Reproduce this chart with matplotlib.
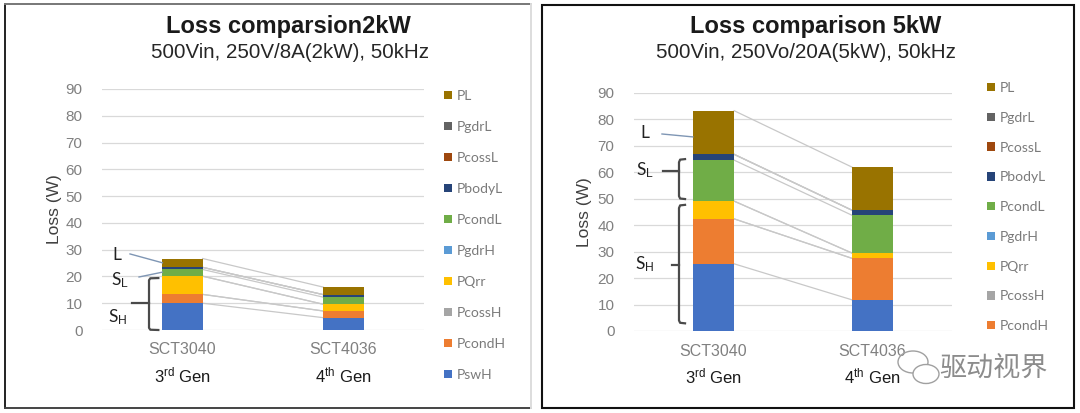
import matplotlib
matplotlib.use("Agg")
import matplotlib.pyplot as plt
import numpy as np
from matplotlib.patches import Rectangle, Ellipse
from matplotlib.lines import Line2D
from matplotlib.transforms import blended_transform_factory

plt.rcParams['font.family'] = ['Liberation Sans', 'DejaVu Sans']
plt.rcParams['mathtext.fontset'] = 'custom'
plt.rcParams['mathtext.rm'] = 'Liberation Sans'
plt.rcParams['mathtext.it'] = 'Liberation Sans:italic'
plt.rcParams['mathtext.bf'] = 'Liberation Sans:bold'

# ---------------- data ----------------
devices = ["SCT3040", "SCT4036"]
generations = [r"3$^{\mathrm{rd}}$ Gen", r"4$^{\mathrm{th}}$ Gen"]
series = ["PswH", "PcondH", "PcossH", "PQrr", "PgdrH",
          "PcondL", "PbodyL", "PcossL", "PgdrL", "PL"]
series_colors = ["#4472C4", "#ED7D31", "#A5A5A5", "#FFC000", "#5B9BD5",
                 "#70AD47", "#264478", "#9E480E", "#636363", "#997300"]

loss_2kw_sct3040 = [10.0, 3.3, 0.0, 6.8, 0.0, 2.5, 0.8, 0.0, 0.0, 3.3]
loss_2kw_sct4036 = [4.6, 2.5, 0.0, 2.5, 0.0, 2.65, 0.95, 0.0, 0.0, 2.8]
loss_5kw_sct3040 = [25.4, 17.0, 0.0, 6.7, 0.0, 15.5, 2.2, 0.0, 0.0, 16.5]
loss_5kw_sct4036 = [11.8, 15.7, 0.0, 2.0, 0.0, 14.3, 1.9, 0.0, 0.0, 16.3]

yticks = [0, 10, 20, 30, 40, 50, 60, 70, 80, 90]

W, H = 1080, 413
fig = plt.figure(figsize=(W / 100, H / 100), dpi=100)


def fx(p):
    return p / W


def fy(p):
    return 1 - p / H


def draw_panel(ax, vals_a, vals_b, bar_w):
    data = np.array([vals_a, vals_b])
    x = np.arange(len(devices))
    bottoms = np.zeros(len(devices))
    handles = []
    for i, name in enumerate(series):
        b = ax.bar(x, data[:, i], bar_w, bottom=bottoms, color=series_colors[i],
                   label=name, zorder=3, linewidth=0)
        handles.append(b)
        bottoms = bottoms + data[:, i]
        ax.plot([x[0] + bar_w / 2, x[1] - bar_w / 2], bottoms, color="#C8C8C8",
                lw=0.9, zorder=2)
    ax.set_xlim(-0.5, 1.5)
    ax.set_ylim(0, 90)
    ax.set_yticks(yticks)
    ax.set_xticks(x)
    ax.set_xticklabels(devices, color="#808080", fontsize=11.5)
    ax.tick_params(axis="both", length=0, colors="#808080")
    ax.tick_params(axis="y", labelsize=11, pad=14)
    ax.tick_params(axis="x", pad=9)
    for s in ax.spines.values():
        s.set_visible(False)
    ax.grid(axis="y", color="#D9D9D9", lw=0.9, zorder=0)
    ax.set_axisbelow(True)
    tr = blended_transform_factory(ax.transData, ax.transAxes)
    for xi, g in zip(x, generations):
        ax.text(xi, -0.19, g, transform=tr, ha="center", va="center",
                fontsize=12, color="#1a1a1a")
    ax.set_ylabel("Loss (W)", fontsize=12.5, color="#404040")
    return handles


# ---------------- left panel ----------------
axL = fig.add_axes([fx(102), fy(330), fx(424) - fx(102), fy(89) - fy(330)])
hL = draw_panel(axL, loss_2kw_sct3040, loss_2kw_sct4036, 0.25)
axL.yaxis.set_label_coords(-0.124, 0.5)

# ---------------- right panel ----------------
axR = fig.add_axes([fx(634), fy(331), fx(952) - fx(634), fy(93) - fy(331)])
hR = draw_panel(axR, loss_5kw_sct3040, loss_5kw_sct4036, 0.26)
axR.yaxis.set_label_coords(-0.132, 0.5)

# legends
leg_font = {"family": ["Lato", "DejaVu Sans"], "size": 10}
lL = fig.legend(hL[::-1], series[::-1], loc="upper left",
                bbox_to_anchor=(fx(437), fy(83)), frameon=False,
                handlelength=0.55, handleheight=0.55, handletextpad=0.4,
                labelspacing=1.37, prop=leg_font, borderpad=0)
for t in lL.get_texts():
    t.set_color("#7a7a7a")
# in the reference the last entry (PswH) of this legend is hidden by the watermark
lR = fig.legend(hR[::-1][:-1], series[::-1][:-1], loc="upper left",
                bbox_to_anchor=(fx(980), fy(75)), frameon=False,
                handlelength=0.55, handleheight=0.55, handletextpad=0.4,
                labelspacing=1.28, prop=leg_font, borderpad=0)
for t in lR.get_texts():
    t.set_color("#7a7a7a")

# annotations (L / SL / SH)
ann_font = dict(family=["Lato", "DejaVu Sans"], fontsize=12.5, color="#222222",
                ha="center", va="center")
line_kw = dict(color="#7F96B4", lw=1.0, clip_on=False, zorder=4)
br_kw = dict(color="#4a4a4a", lw=1.6, clip_on=False, zorder=4)

# left
axL.text(-0.407, 28.0, "L", **ann_font)
axL.plot([-0.326, -0.125], [28.4, 25.1], **line_kw)
axL.text(-0.39, 18.5, r"S$_{\mathrm{L}}$", **ann_font)
axL.plot([-0.27, -0.125], [19.8, 21.6], **line_kw)
axL.text(-0.40, 4.8, r"S$_{\mathrm{H}}$", **ann_font)
axL.plot([-0.150, -0.200, -0.208, -0.208, -0.200, -0.150],
         [19.4, 19.3, 18.6, 0.8, 0.1, 0.0], **br_kw)
axL.plot([-0.208, -0.314], [10, 10], **br_kw)

# right
axR.text(-0.43, 74.8, "L", **ann_font)
axR.plot([-0.324, -0.13], [74.5, 73.4], **line_kw)
axR.text(-0.43, 60.8, r"S$_{\mathrm{L}}$", **ann_font)
axR.plot([-0.179, -0.210, -0.217, -0.217, -0.210, -0.179],
         [65.0, 64.8, 63.8, 51.0, 50.1, 49.9], **br_kw)
axR.plot([-0.217, -0.320], [60.5, 60.5], **br_kw)
axR.text(-0.43, 25.3, r"S$_{\mathrm{H}}$", **ann_font)
axR.plot([-0.179, -0.210, -0.217, -0.217, -0.210, -0.179],
         [47.7, 47.5, 46.5, 4.0, 3.1, 2.9], **br_kw)
axR.plot([-0.217, -0.261], [25, 25], **br_kw)

# titles
fig.text(fx(288), fy(27), "Loss comparsion2kW", ha="center", va="center",
         fontsize=17, fontweight="bold", color="#1a1a1a")
fig.text(fx(290), fy(53), "500Vin, 250V/8A(2kW), 50kHz", ha="center", va="center",
         fontsize=14.8, color="#262626")
fig.text(fx(816), fy(27), "Loss comparison 5kW", ha="center", va="center",
         fontsize=17, fontweight="bold", color="#1a1a1a")
fig.text(fx(806), fy(53), "500Vin, 250Vo/20A(5kW), 50kHz", ha="center", va="center",
         fontsize=14.8, color="#262626")

# panel borders
def seg(x0, y0, x1, y1, c, lw):
    fig.add_artist(Line2D([fx(x0), fx(x1)], [fy(y0), fy(y1)], color=c, lw=lw,
                          transform=fig.transFigure))

seg(5, 4, 5, 408, "#222222", 1.4)
seg(5, 4, 531, 4, "#777777", 1.4)
seg(5, 408, 531, 408, "#444444", 1.4)
seg(531, 4, 531, 408, "#DDDDDD", 1.4)
fig.add_artist(Rectangle((fx(542), fy(408)), fx(1074) - fx(542), fy(5) - fy(408),
                         fill=False, ec="#111111", lw=1.5, transform=fig.transFigure))

# watermark
fig.add_artist(Ellipse((fx(913), fy(362)), fx(30), 22 / H, fill=False, ec="#a0a0a0",
                       lw=1.0, transform=fig.transFigure))
fig.add_artist(Ellipse((fx(926), fy(374)), fx(26), 19 / H, fc="white", ec="#a0a0a0",
                       lw=1.0, transform=fig.transFigure))
fig.text(fx(993), fy(368), "驱动视界", ha="center", va="center", fontsize=19.5,
         color="#8c8c8c", family=["Noto Sans CJK SC", "DejaVu Sans"])

fig.savefig("out.png", dpi=100)
